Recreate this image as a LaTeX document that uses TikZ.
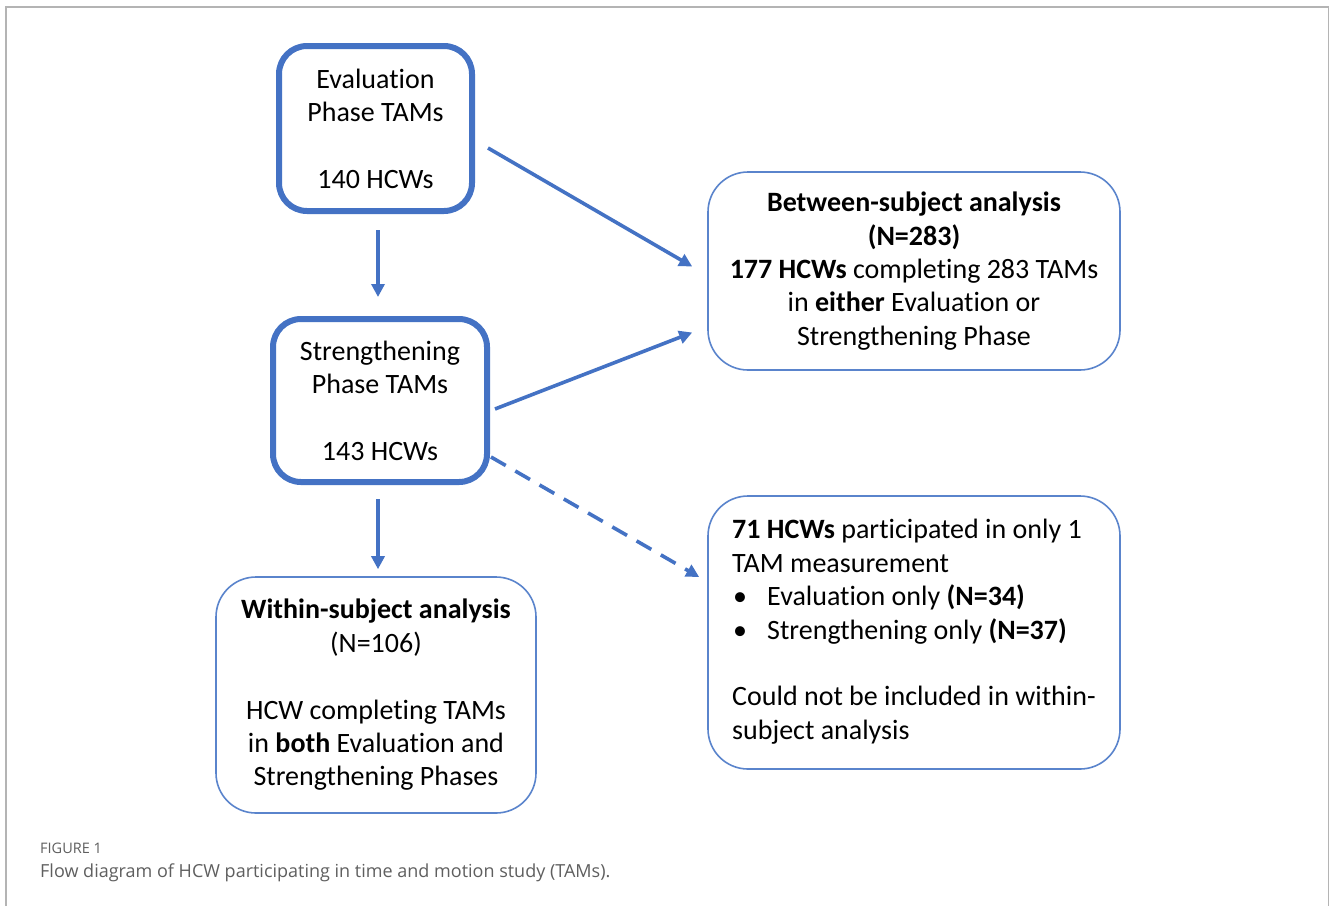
\documentclass[tikz,border=0pt]{standalone}
\usepackage{fontspec}
\setmainfont[Ligatures=NoCommon]{Carlito}
\newfontfamily\capfont{Open Sans}
\usetikzlibrary{arrows.meta,calc}
\definecolor{boxblue}{HTML}{4472C4}
\definecolor{thinblue}{HTML}{5A84CC}
\definecolor{capgrey}{HTML}{5F5F5F}
\definecolor{framegrey}{HTML}{B4B4B4}
\tikzset{
  thickbox/.style={draw=boxblue, line width=6pt, rounded corners=28pt, align=center, inner sep=0pt,
    font=\fontsize{28}{33.4}\selectfont},
  thinbox/.style={draw=thinblue, line width=1.6pt, rounded corners=40pt, inner sep=0pt,
    font=\fontsize{28}{33.4}\selectfont},
  flow/.style={draw=boxblue, line width=3.6pt, -{Triangle[length=13pt,width=13pt]}},
  dflow/.style={flow, dash pattern=on 17pt off 11pt},
}
\begin{document}
\begin{tikzpicture}[x=1pt,y=-1pt]
\useasboundingbox (0,0) rectangle (1330,906);
\fill[white] (0,0) rectangle (1330,906);
% frame
\draw[framegrey, line width=1.5pt] (6,906) -- (6,7) -- (1328.5,7) -- (1328.5,906);

\node[thickbox, minimum width=193pt, minimum height=165pt] (b1) at (375.5,128.5)
  {Evaluation\\Phase TAMs\\\mbox{}\\140 HCWs};
\node[thickbox, minimum width=214pt, minimum height=163pt] (b2) at (380,400.5)
  {Strengthening\\Phase TAMs\\\mbox{}\\143 HCWs};
\node[thinbox, align=center, minimum width=320pt, minimum height=236pt] (b3) at (376,695)
  {\textbf{Within-subject analysis}\\(N=106)\\\mbox{}\\HCW completing TAMs\\in \textbf{both} Evaluation and\\Strengthening Phases};
\node[thinbox, align=center, minimum width=412pt, minimum height=198pt] (b4) at (914,271)
  {\textbf{Between-subject analysis}\\\textbf{(N=283)}\\\textbf{177 HCWs} completing 283 TAMs\\in \textbf{either} Evaluation or\\Strengthening Phase};
\node[thinbox, minimum width=412pt, minimum height=273pt] (b5) at (914,632.5)
  {\begin{tabular}{@{}l@{}}
   \textbf{71 HCWs} participated in only 1\\
   TAM measurement\\
   \makebox[35pt][l]{\hspace*{1pt}\textbullet}Evaluation only \textbf{(N=34)}\\
   \makebox[35pt][l]{\hspace*{1pt}\textbullet}Strengthening only \textbf{(N=37)}\\
   \mbox{}\\
   Could not be included in within-\\
   subject analysis
   \end{tabular}};

% connectors
\draw[flow] ([xshift=2.5pt,yshift=-16pt]b1.south) -- ([xshift=-2pt,yshift=19pt]b2.north);
\draw[flow] ([xshift=-2pt,yshift=-14pt]b2.south) -- ([xshift=2pt,yshift=7pt]b3.north);
\draw[flow] ([xshift=13pt,yshift=-19.5pt]b1.east) -- ([xshift=-15pt,yshift=4.5pt]b4.west);
\draw[flow] ([xshift=5pt,yshift=-8.5pt]b2.east) -- ([xshift=-15pt,yshift=-61.5pt]b4.west);
\draw[dflow] ([xshift=1pt,yshift=-56.5pt]b2.east) -- ([xshift=-8pt,yshift=55.5pt]b5.west);

% caption
\node[anchor=base west, inner sep=0pt, text=capgrey, font=\capfont\fontsize{14.5}{17}\selectfont] (fig) at (40,853) {FIGURE 1};
\node[anchor=base west, inner sep=0pt, text=capgrey, font=\capfont\fontsize{18}{21}\selectfont] (cap) at (40,877)
  {Flow diagram of HCW participating in time and motion study (TAMs).};
\end{tikzpicture}
\end{document}
